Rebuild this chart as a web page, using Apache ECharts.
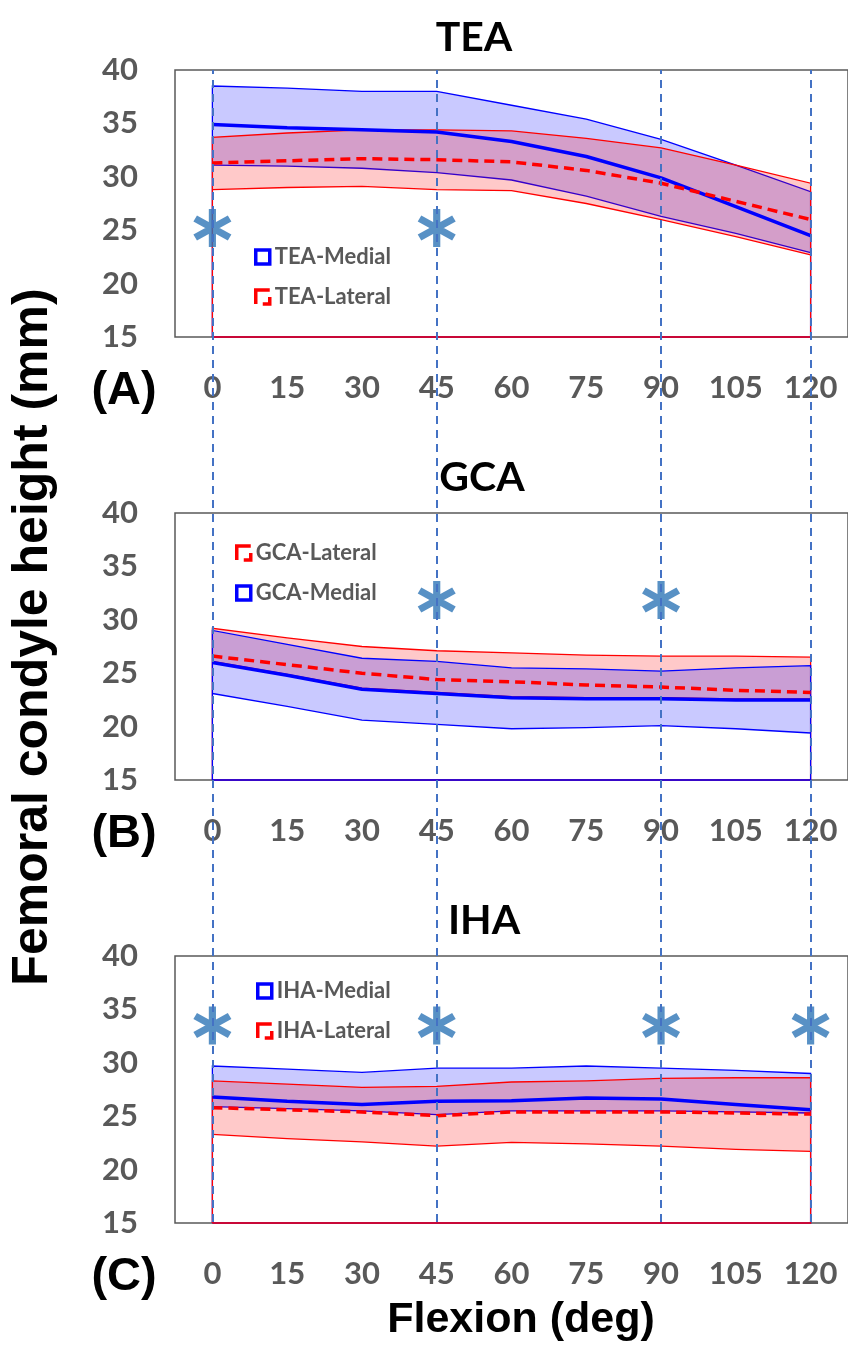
<!DOCTYPE html>
<html><head><meta charset="utf-8">
<script src="https://cdn.jsdelivr.net/npm/echarts@6/dist/echarts.min.js"></script>
<style>html,body{margin:0;padding:0;background:#fff}#c{width:848px;height:1359px}</style>
</head><body><div id="c"></div>
<script>
// ---- data ----
const flexion = [0, 15, 30, 45, 60, 75, 90, 105, 120];
const yMin = 15, yMax = 40, yStep = 5;

const teaMedialUpper = [38.5, 38.3, 38.0, 38.0, 36.7, 35.4, 33.5, 31.1, 28.6];
const teaMedialMean  = [34.9, 34.6, 34.4, 34.2, 33.3, 31.9, 29.9, 27.2, 24.5];
const teaMedialLower = [31.1, 31.0, 30.8, 30.4, 29.7, 28.2, 26.3, 24.7, 22.9];
const teaLateralUpper = [33.7, 34.1, 34.4, 34.4, 34.3, 33.6, 32.7, 31.1, 29.4];
const teaLateralMean  = [31.3, 31.5, 31.7, 31.6, 31.4, 30.6, 29.4, 27.7, 26.0];
const teaLateralLower = [28.8, 29.0, 29.1, 28.8, 28.7, 27.5, 26.0, 24.4, 22.7];

const gcaLateralUpper = [29.2, 28.3, 27.5, 27.1, 26.9, 26.7, 26.6, 26.6, 26.5];
const gcaLateralMean  = [26.6, 25.8, 25.0, 24.4, 24.2, 23.9, 23.7, 23.4, 23.2];
const gcaLateralLower = [26.1, 24.9, 23.6, 23.2, 22.8, 22.7, 22.7, 22.6, 22.6];
const gcaMedialUpper = [29.0, 27.7, 26.4, 26.1, 25.5, 25.4, 25.2, 25.5, 25.7];
const gcaMedialMean  = [26.0, 24.8, 23.5, 23.1, 22.7, 22.6, 22.6, 22.5, 22.5];
const gcaMedialLower = [23.1, 21.9, 20.6, 20.2, 19.8, 19.9, 20.1, 19.8, 19.4];

const ihaMedialUpper = [29.7, 29.4, 29.1, 29.5, 29.5, 29.7, 29.5, 29.3, 29.0];
const ihaMedialMean  = [26.8, 26.4, 26.1, 26.4, 26.45, 26.7, 26.6, 26.1, 25.6];
const ihaMedialLower = [25.9, 25.7, 25.5, 25.15, 25.5, 25.5, 25.5, 25.4, 25.3];
const ihaLateralUpper = [28.3, 28.0, 27.7, 27.8, 28.2, 28.3, 28.55, 28.6, 28.6];
const ihaLateralMean  = [25.8, 25.6, 25.4, 25.05, 25.4, 25.4, 25.4, 25.3, 25.2];
const ihaLateralLower = [23.3, 22.9, 22.6, 22.2, 22.55, 22.4, 22.2, 21.9, 21.7];

// significance markers (flexion angle) and the height at which the asterisk is drawn
const teaStars = [0, 45];          const teaStarLevel = 25.2;
const gcaStars = [45, 90];         const gcaStarLevel = 31.85;
const ihaStars = [0, 45, 90, 120]; const ihaStarLevel = 33.5;
const markedAngles = [0, 45, 90, 120];

// ---- styling ----
const BLUE = '#0000FF', RED = '#FF0000';
const BLUE_FILL = 'rgba(0,0,255,0.21)', RED_FILL = 'rgba(255,0,0,0.21)';
const GRAY = '#595959';
const STAR = 'path://M41 0L59 0L59 100L41 100Z M2.2 32.8L11.2 17.2L97.8 67.2L88.8 82.8Z M88.8 17.2L97.8 32.8L11.2 82.8L2.2 67.2Z';
const cats = flexion.map(String);

function bandRender(lower, upper, color, fill) {
  return function (params, api) {
    if (params.dataIndex !== 0) return;
    const up = upper.map((v, i) => api.coord([i, v]));
    const lo = lower.map((v, i) => api.coord([i, v]));
    const b0 = api.coord([0, yMin]);
    const b1 = api.coord([upper.length - 1, yMin]);
    return {
      type: 'group',
      children: [
        { type: 'polygon', shape: { points: up.concat(lo.slice().reverse()) }, style: { fill: fill } },
        { type: 'polyline', shape: { points: [b0].concat(up, [b1, b0]) }, style: { stroke: color, lineWidth: 1.3, fill: null } },
        { type: 'polyline', shape: { points: lo }, style: { stroke: color, lineWidth: 1.3, fill: null } }
      ]
    };
  };
}

const panels = [
  { name: 'TEA', top: 70, bands: [
      ['TEA-Medial', teaMedialLower, teaMedialUpper, BLUE, BLUE_FILL],
      ['TEA-Lateral', teaLateralLower, teaLateralUpper, RED, RED_FILL]],
    means: [[teaMedialMean, BLUE, 'solid'], [teaLateralMean, RED, 'dashed']],
    stars: teaStars, starLevel: teaStarLevel,
    legend: ['TEA-Medial', 'TEA-Lateral'], legendLeft: 249, legendTop: 241 },
  { name: 'GCA', top: 513, bands: [
      ['GCA-Lateral', gcaLateralLower, gcaLateralUpper, RED, RED_FILL],
      ['GCA-Medial', gcaMedialLower, gcaMedialUpper, BLUE, BLUE_FILL]],
    means: [[gcaLateralMean, RED, 'dashed'], [gcaMedialMean, BLUE, 'solid']],
    stars: gcaStars, starLevel: gcaStarLevel,
    legend: ['GCA-Lateral', 'GCA-Medial'], legendLeft: 230, legendTop: 537 },
  { name: 'IHA', top: 956, bands: [
      ['IHA-Medial', ihaMedialLower, ihaMedialUpper, BLUE, BLUE_FILL],
      ['IHA-Lateral', ihaLateralLower, ihaLateralUpper, RED, RED_FILL]],
    means: [[ihaMedialMean, BLUE, 'solid'], [ihaLateralMean, RED, 'dashed']],
    stars: ihaStars, starLevel: ihaStarLevel,
    legend: ['IHA-Medial', 'IHA-Lateral'], legendLeft: 251, legendTop: 975 }
];
const PLOT_H = 267;

const grid = [], xAxis = [], yAxis = [], series = [], legend = [];
panels.forEach((p, gi) => {
  grid.push({ left: 175, right: -2, top: p.top, height: PLOT_H, show: true,
    borderColor: GRAY, borderWidth: 1.5, backgroundColor: 'transparent' });
  xAxis.push({ type: 'category', gridIndex: gi, data: cats, boundaryGap: true,
    axisLine: { show: false }, axisTick: { show: false }, splitLine: { show: false },
    axisLabel: { interval: 0, margin: 35, fontSize: 31, fontWeight: 'bold', color: GRAY, fontFamily: 'Lato' } });
  yAxis.push({ type: 'value', gridIndex: gi, min: yMin, max: yMax, interval: yStep,
    axisLine: { show: false }, axisTick: { show: false }, splitLine: { show: false },
    axisLabel: { margin: 37, fontSize: 31, fontWeight: 'bold', color: GRAY, fontFamily: 'Lato' } });
  p.bands.forEach(b => {
    series.push({ type: 'custom', name: b[0], xAxisIndex: gi, yAxisIndex: gi, z: 2,
      renderItem: bandRender(b[1], b[2], b[3], b[4]),
      data: b[1].map((v, i) => [i, v, b[2][i]]), encode: { x: 0, y: [1, 2] },
      itemStyle: { color: b[3] }, silent: true });
  });
  p.means.forEach((m, k) => {
    series.push({ type: 'line', name: p.name + '-mean-' + k, xAxisIndex: gi, yAxisIndex: gi, z: 3,
      data: m[0], symbol: 'none', silent: true,
      lineStyle: { color: m[1], width: 3.5, type: m[2] === 'dashed' ? [10, 6] : 'solid' } });
  });
  series.push({ type: 'scatter', name: p.name + '-sig', xAxisIndex: gi, yAxisIndex: gi, z: 4,
    symbol: STAR, symbolSize: [38, 38], itemStyle: { color: '#2E75B6' }, silent: true,
    data: p.stars.map(a => [String(a), p.starLevel]) });
  legend.push({ orient: 'vertical', left: p.legendLeft, top: p.legendTop, itemGap: 18,
    itemWidth: 14, itemHeight: 14, selectedMode: false,
    textStyle: { color: GRAY, fontSize: 22, fontFamily: 'Lato', fontWeight: 'bold' },
    data: p.legend.map(n => ({ name: n, icon: 'rect',
      itemStyle: { color: '#fff', borderColor: n.endsWith('Medial') ? BLUE : RED, borderWidth: 3.5,
        borderType: n.endsWith('Medial') ? 'solid' : 'dashed' } })) });
});

// overlay grid for the vertical dashed reference lines spanning all panels
grid.push({ left: 175, right: -2, top: 70, bottom: 1359 - 1222 });
xAxis.push({ type: 'category', gridIndex: 3, data: cats, boundaryGap: true, show: false });
yAxis.push({ type: 'value', gridIndex: 3, min: 0, max: 1, show: false });
series.push({ type: 'line', name: 'ref', xAxisIndex: 3, yAxisIndex: 3, z: 5, data: cats.map(() => null),
  symbol: 'none', silent: true,
  markLine: { symbol: 'none', silent: true, label: { show: false },
    lineStyle: { color: '#4472C4', width: 2, type: [8, 6] },
    data: markedAngles.map(a => ({ xAxis: String(a) })) } });

const chart = echarts.init(document.getElementById('c'), null, { renderer: 'canvas' });
chart.setOption({
  animation: false,
  backgroundColor: '#fff',
  grid, xAxis, yAxis, series, legend,
  graphic: [
    { type: 'text', x: 474, y: 38, style: { text: 'TEA', fill: '#000', font: 'bold 41px Lato', align: 'center', verticalAlign: 'middle' } },
    { type: 'text', x: 482, y: 478, style: { text: 'GCA', fill: '#000', font: 'bold 41px Lato', align: 'center', verticalAlign: 'middle' } },
    { type: 'text', x: 484, y: 921, style: { text: 'IHA', fill: '#000', font: 'bold 41px Lato', align: 'center', verticalAlign: 'middle' } },
    { type: 'text', x: 124, y: 391, style: { text: '(A)', fill: '#000', font: 'bold 47px "Liberation Sans"', align: 'center', verticalAlign: 'middle' } },
    { type: 'text', x: 124, y: 834, style: { text: '(B)', fill: '#000', font: 'bold 47px "Liberation Sans"', align: 'center', verticalAlign: 'middle' } },
    { type: 'text', x: 124, y: 1277, style: { text: '(C)', fill: '#000', font: 'bold 47px "Liberation Sans"', align: 'center', verticalAlign: 'middle' } },
    { type: 'text', x: 33, y: 637, rotation: Math.PI / 2,
      style: { text: 'Femoral condyle height (mm)', fill: '#000', font: 'bold 50px "Liberation Sans"', align: 'center', verticalAlign: 'middle' } },
    { type: 'text', x: 521, y: 1320,
      style: { text: 'Flexion (deg)', fill: '#000', font: 'bold 43px "Liberation Sans"', align: 'center', verticalAlign: 'middle' } }
  ]
});
</script></body></html>
